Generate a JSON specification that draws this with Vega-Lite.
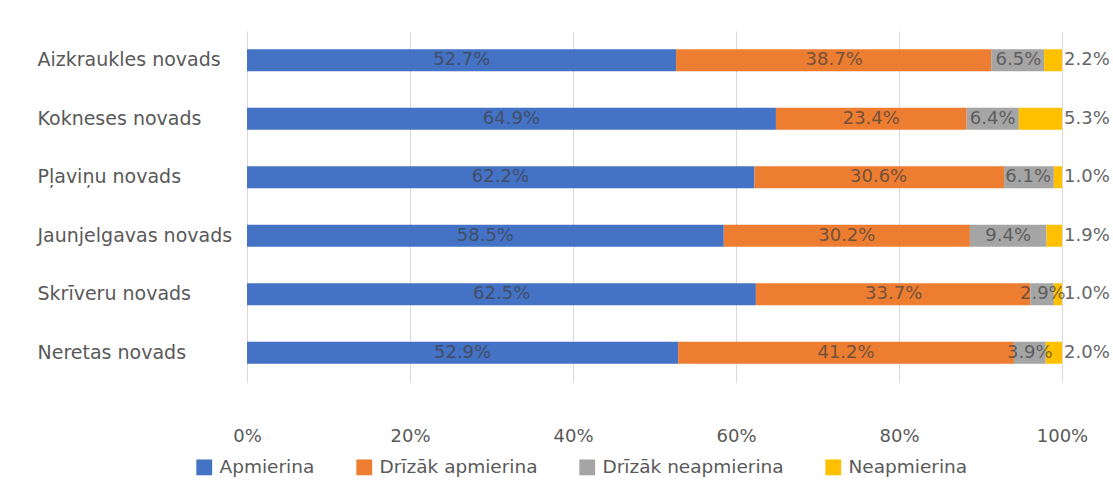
{
  "$schema": "https://vega.github.io/schema/vega-lite/v6.json",
  "width": 815,
  "height": 351,
  "autosize": {"type": "none"},
  "padding": {"left": 247, "top": 31, "right": 51, "bottom": 122},
  "background": "white",
  "config": {
    "view": {"stroke": null},
    "font": "DejaVu Sans",
    "axis": {"labelFont": "DejaVu Sans", "labelColor": "#595959", "labelFontSize": 18}
  },
  "data": {
    "values": [
      {"region": "Aizkraukles novads", "series": "Apmierina", "value": 0.527},
      {"region": "Aizkraukles novads", "series": "Drīzāk apmierina", "value": 0.387},
      {"region": "Aizkraukles novads", "series": "Drīzāk neapmierina", "value": 0.065},
      {"region": "Aizkraukles novads", "series": "Neapmierina", "value": 0.022},
      {"region": "Kokneses novads", "series": "Apmierina", "value": 0.649},
      {"region": "Kokneses novads", "series": "Drīzāk apmierina", "value": 0.234},
      {"region": "Kokneses novads", "series": "Drīzāk neapmierina", "value": 0.064},
      {"region": "Kokneses novads", "series": "Neapmierina", "value": 0.053},
      {"region": "Pļaviņu novads", "series": "Apmierina", "value": 0.622},
      {"region": "Pļaviņu novads", "series": "Drīzāk apmierina", "value": 0.306},
      {"region": "Pļaviņu novads", "series": "Drīzāk neapmierina", "value": 0.061},
      {"region": "Pļaviņu novads", "series": "Neapmierina", "value": 0.010},
      {"region": "Jaunjelgavas novads", "series": "Apmierina", "value": 0.585},
      {"region": "Jaunjelgavas novads", "series": "Drīzāk apmierina", "value": 0.302},
      {"region": "Jaunjelgavas novads", "series": "Drīzāk neapmierina", "value": 0.094},
      {"region": "Jaunjelgavas novads", "series": "Neapmierina", "value": 0.019},
      {"region": "Skrīveru novads", "series": "Apmierina", "value": 0.625},
      {"region": "Skrīveru novads", "series": "Drīzāk apmierina", "value": 0.337},
      {"region": "Skrīveru novads", "series": "Drīzāk neapmierina", "value": 0.029},
      {"region": "Skrīveru novads", "series": "Neapmierina", "value": 0.010},
      {"region": "Neretas novads", "series": "Apmierina", "value": 0.529},
      {"region": "Neretas novads", "series": "Drīzāk apmierina", "value": 0.412},
      {"region": "Neretas novads", "series": "Drīzāk neapmierina", "value": 0.039},
      {"region": "Neretas novads", "series": "Neapmierina", "value": 0.020}
    ]
  },
  "encoding": {
    "y": {
      "field": "region",
      "type": "nominal",
      "sort": null,
      "scale": {"paddingInner": 0, "paddingOuter": 0},
      "axis": {
        "title": null,
        "domain": false,
        "ticks": false,
        "labelAlign": "left",
        "labelPadding": 210,
        "labelFontSize": 19,
        "labelLimit": 300
      }
    }
  },
  "layer": [
    {
      "mark": {"type": "bar", "size": 22},
      "encoding": {
        "x": {
          "field": "value",
          "type": "quantitative",
          "stack": "normalize",
          "scale": {"domain": [0, 1], "nice": false},
          "axis": {
            "title": null,
            "format": ".0%",
            "values": [0, 0.2, 0.4, 0.6, 0.8, 1],
            "domain": false,
            "ticks": false,
            "grid": true,
            "gridColor": "#d9d9d9",
            "labelFlush": false,
            "labelPadding": 45
          }
        },
        "color": {
          "field": "series",
          "type": "nominal",
          "sort": ["Apmierina", "Drīzāk apmierina", "Drīzāk neapmierina", "Neapmierina"],
          "scale": {
            "domain": ["Apmierina", "Drīzāk apmierina", "Drīzāk neapmierina", "Neapmierina"],
            "range": ["#4472C4", "#ED7D31", "#A5A5A5", "#FFC000"]
          },
          "legend": {
            "title": null,
            "orient": "none",
            "direction": "horizontal",
            "legendX": -52,
            "legendY": 427,
            "symbolType": "square",
            "symbolSize": 250,
            "symbolOpacity": 1,
            "labelFont": "DejaVu Sans",
            "labelFontSize": 18.5,
            "labelColor": "#595959",
            "labelOffset": 6,
            "labelLimit": 0,
            "columnPadding": 40
          }
        },
        "order": {"field": "series", "sort": "ascending"}
      }
    },
    {
      "transform": [{"filter": "datum.series !== 'Neapmierina'"}],
      "mark": {"type": "text", "fontSize": 18, "color": "#404040", "opacity": 0.7, "font": "DejaVu Sans"},
      "encoding": {
        "x": {"field": "value", "type": "quantitative", "stack": "zero", "bandPosition": 0.5},
        "detail": {"field": "series"},
        "order": {"field": "series", "sort": "ascending"},
        "text": {"field": "value", "type": "quantitative", "format": ".1%"}
      }
    },
    {
      "transform": [{"filter": "datum.series === 'Neapmierina'"}],
      "mark": {"type": "text", "fontSize": 18, "color": "#404040", "opacity": 0.8, "align": "left", "dx": 2, "font": "DejaVu Sans"},
      "encoding": {
        "x": {"datum": 1, "type": "quantitative"},
        "text": {"field": "value", "type": "quantitative", "format": ".1%"}
      }
    }
  ]
}
